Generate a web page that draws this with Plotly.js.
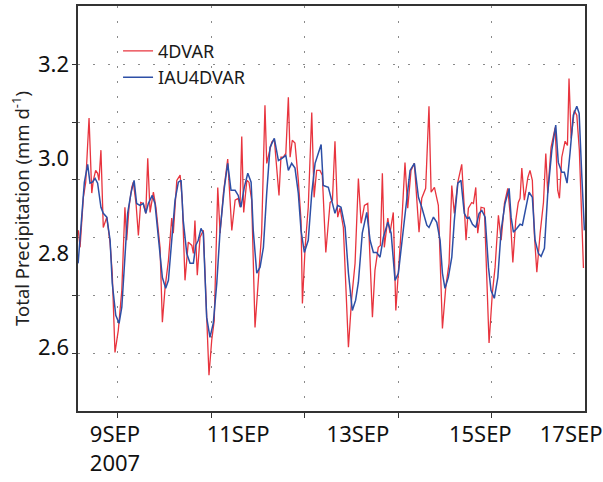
<!DOCTYPE html>
<html>
<head>
<meta charset="utf-8">
<script src="https://cdn.plot.ly/plotly-3.0.1.min.js"></script>
<style>html,body{margin:0;padding:0;background:#fff;}#chart{width:603px;height:482px;}</style>
</head>
<body>
<div id="chart"></div>
<script>
// Hours since 2007-09-08 00:00 UTC
const hours4DVAR = [3.9,4.8,6.5,7.7,9.4,10.8,11.6,12.8,13.8,14.5,
15.5,16.7,18.5,20.2,21.3,22.7,24.4,26.2,27.8,28.7,
29.9,31.3,32.1,33.5,34.7,35.9,37.2,38.5,39.5,40.7,
42.4,43.7,45.8,47.0,48.4,50.1,51.8,52.6,54.4,56.1,
57.2,58.6,60.3,62.1,62.9,63.7,64.9,66.3,68.0,69.7,
70.9,72.3,73.6,75.4,76.6,78.3,80.5,82.6,84.3,85.9,
86.8,87.7,88.7,90.3,91.4,92.8,93.6,94.5,96.2,97.9,
99.6,100.5,101.7,103.1,104.4,105.6,106.8,107.8,109.0,110.3,
111.6,112.5,113.6,115.0,116.7,118.1,118.8,120.2,121.8,123.6,
124.8,126.1,127.8,129.0,130.8,133.0,134.2,135.5,136.9,138.1,
139.8,142.4,144.1,145.8,147.5,148.9,150.6,152.3,153.5,154.7,
156.0,157.7,158.8,159.8,160.8,162.6,163.7,165.4,166.7,168.4,
170.0,171.4,172.8,174.5,176.2,178.6,180.0,182.0,183.7,184.8,
186.5,188.5,190.6,192.3,194.0,195.4,196.7,198.5,199.6,200.5,
201.8,202.7,203.9,205.6,206.5,207.7,208.7,210.4,212.1,213.3,
214.5,216.2,217.6,219.3,220.7,222.4,224.1,225.3,226.7,228.2,
229.5,230.4,231.3,232.6,234.4,235.5,236.7,237.7,239.0,240.7,
242.4,243.6,244.6,246.3,248.4,249.7,250.6,251.8,253.5,254.7,
255.5,256.6,258.2,259.5,260.8,262.0,262.9];
const values4DVAR = [2.848,2.812,2.918,2.950,3.086,2.927,2.954,2.975,2.969,2.954,
3.018,2.854,2.876,2.821,2.757,2.589,2.636,2.721,2.897,2.827,
2.897,2.939,2.950,2.905,2.837,2.907,2.905,2.884,3.001,2.886,
2.929,2.897,2.812,2.653,2.727,2.784,2.874,2.842,2.954,2.965,
2.912,2.742,2.823,2.816,2.799,2.869,2.753,2.833,2.848,2.685,
2.541,2.615,2.657,2.939,2.842,2.927,2.999,2.848,2.912,2.916,
2.897,3.047,2.886,2.954,2.950,2.912,2.770,2.642,2.742,2.842,
3.113,2.990,3.011,3.035,3.041,2.982,2.922,3.003,3.003,3.011,
3.130,3.003,3.039,3.033,2.954,2.869,2.693,2.812,2.897,3.098,
2.918,2.975,2.975,2.965,2.801,2.907,2.912,3.037,2.876,2.895,
2.854,2.600,2.706,2.778,2.958,2.863,2.901,2.905,2.799,2.664,
2.763,2.812,2.816,2.969,2.812,2.874,2.842,2.886,2.678,2.778,
2.884,2.992,2.895,2.975,2.990,2.844,2.916,2.937,3.111,2.929,
2.939,2.901,2.640,2.727,2.778,2.943,2.884,2.950,2.969,2.988,
2.897,2.827,2.895,2.907,2.905,2.939,2.842,2.897,2.895,2.770,
2.609,2.715,2.770,2.880,2.827,2.905,2.937,2.884,2.780,2.869,
2.907,2.916,2.980,2.912,2.960,2.975,2.954,2.842,2.759,2.842,
2.907,3.011,2.927,3.024,3.066,2.933,2.916,3.003,3.037,3.028,
3.170,3.043,3.102,3.092,3.018,2.876,2.768];

const hoursIAU = [3.8,5.6,7.0,8.7,9.9,11.1,12.5,13.8,15.5,16.7,
18.5,20.2,21.3,23.1,24.8,26.2,27.8,29.2,30.9,32.5,
33.8,35.5,37.2,38.5,39.8,41.8,43.2,44.9,47.0,48.7,
50.1,52.1,53.5,55.2,56.6,57.7,59.5,61.2,62.9,64.1,
65.4,66.8,68.0,69.7,71.4,73.1,74.9,76.6,78.8,80.5,
82.2,84.3,85.9,87.3,89.0,90.8,92.5,93.6,95.4,97.1,
98.8,100.5,102.2,104.4,106.5,108.5,110.3,111.6,113.3,115.0,
116.7,118.1,119.8,121.8,123.6,125.3,128.4,129.5,132.1,135.5,
136.9,138.6,140.7,142.4,144.4,146.1,147.5,149.5,151.8,153.5,
155.2,156.9,158.6,160.3,162.6,164.3,166.3,168.0,170.0,171.4,
174.0,176.2,178.3,180.0,182.6,183.7,186.0,187.7,189.4,190.6,
191.9,193.6,195.4,196.7,198.5,200.1,201.8,203.1,204.3,206.0,
207.7,209.4,210.8,212.5,214.2,215.5,217.2,219.0,220.7,222.7,
224.8,225.8,227.0,228.7,230.4,231.6,233.0,235.0,236.7,238.1,
239.8,241.2,242.9,244.6,246.7,248.7,250.0,251.8,253.1,254.5,
256.0,257.7,259.5,260.7,262.0,263.4];
const valuesIAU = [2.778,2.876,2.950,2.988,2.948,2.950,2.958,2.948,2.897,2.884,
2.876,2.827,2.736,2.668,2.651,2.685,2.799,2.884,2.927,2.954,
2.905,2.901,2.905,2.884,2.905,2.922,2.905,2.827,2.748,2.725,
2.742,2.842,2.912,2.950,2.954,2.869,2.799,2.778,2.778,2.816,
2.827,2.852,2.842,2.664,2.621,2.651,2.736,2.848,2.939,2.990,
2.933,2.933,2.922,2.897,2.939,2.969,2.950,2.848,2.757,2.770,
2.812,2.927,3.024,3.043,2.996,3.001,3.007,2.975,2.990,2.980,
2.927,2.848,2.801,2.827,2.927,2.990,3.030,2.943,2.939,2.884,
2.901,2.897,2.854,2.757,2.678,2.700,2.738,2.842,2.886,2.827,
2.801,2.801,2.791,2.833,2.865,2.842,2.742,2.757,2.827,2.884,
2.975,2.990,2.918,2.897,2.859,2.854,2.876,2.865,2.827,2.757,
2.725,2.748,2.791,2.869,2.948,2.954,2.884,2.874,2.876,2.861,
2.854,2.884,2.890,2.876,2.770,2.721,2.704,2.748,2.848,2.905,
2.937,2.876,2.844,2.852,2.861,2.859,2.890,2.929,2.918,2.827,
2.799,2.793,2.810,2.927,3.018,3.071,2.992,2.971,2.971,2.948,
3.011,3.092,3.111,3.096,2.969,2.848];

// Axis ticks and labels
const gridHours = [24, 72, 120, 168, 216];           // 9,11,13,15,17 SEP 00Z
const dateLabelHours = [22.7, 85.8, 147.3, 210, 256.6];
const dateLabels = ['9SEP<br>2007', '11SEP', '13SEP', '15SEP', '17SEP'];
const yGridVals = [2.5875, 2.71, 2.8325, 2.955, 3.0775, 3.2];
const yLabelVals = [2.6, 2.8, 3.0, 3.2];
const yLabels = ['2.6', '2.8', '3.0', '3.2'];

const xRange = [3.74, 263.7];
const yRange = [2.465, 3.3236];
const FONT = 'Noto Sans, sans-serif';

const traces = [
  {x: hours4DVAR, y: values4DVAR, type: 'scatter', mode: 'lines', name: '4DVAR',
   line: {color: '#e8343e', width: 1.3}},
  {x: hoursIAU, y: valuesIAU, type: 'scatter', mode: 'lines', name: 'IAU4DVAR',
   line: {color: '#2d4fa6', width: 1.5}},
  {x: [], y: [], xaxis: 'x2', yaxis: 'y2', type: 'scatter', mode: 'lines',
   showlegend: false, hoverinfo: 'skip'}
];

const layout = {
  width: 603, height: 482,
  margin: {l: 78, r: 18, t: 6, b: 71},
  paper_bgcolor: '#fff', plot_bgcolor: '#fff',
  font: {family: FONT, color: '#1a1a1a'},
  showlegend: true,
  legend: {x: 0.079, y: 0.934, xanchor: 'left', yanchor: 'top',
           bgcolor: 'rgba(0,0,0,0)', font: {size: 18, family: FONT, color: '#1a1a1a'},
           tracegroupgap: 0},
  xaxis: {range: xRange, tickmode: 'array', tickvals: gridHours, showticklabels: false,
          ticks: 'outside', ticklen: 5, tickwidth: 1, tickcolor: '#333',
          showgrid: true, gridcolor: '#8a8a8a', gridwidth: 1, griddash: '2px,13px',
          showline: true, linecolor: '#333', linewidth: 2, mirror: true, zeroline: false},
  xaxis2: {overlaying: 'x', anchor: 'y2', side: 'bottom', range: xRange, tickmode: 'array',
           tickvals: dateLabelHours, ticktext: dateLabels, ticks: '', showgrid: false,
           showline: false, zeroline: false, tickfont: {size: 22, family: FONT, color: '#111'},
           ticklabelstandoff: 8},
  yaxis: {range: yRange, tickmode: 'array', tickvals: yGridVals, showticklabels: false,
          ticks: 'outside', ticklen: 4, tickwidth: 1, tickcolor: '#333',
          showgrid: true, gridcolor: '#8a8a8a', gridwidth: 1, griddash: '2px,13px',
          showline: true, linecolor: '#333', linewidth: 2, mirror: true, zeroline: false},
  yaxis2: {overlaying: 'y', anchor: 'x2', side: 'left', range: yRange, tickmode: 'array',
           tickvals: yLabelVals, ticktext: yLabels, ticks: '', showgrid: false,
           showline: false, zeroline: false, tickfont: {size: 22, family: FONT, color: '#111'},
           ticklabelstandoff: 8,
           title: {text: 'Total Precipitation (mm d<sup>-1</sup>)', standoff: 3,
                   font: {size: 18.5, family: FONT, color: '#222'}}}
};

Plotly.newPlot('chart', traces, layout, {staticPlot: true, displayModeBar: false});
</script>
</body>
</html>
